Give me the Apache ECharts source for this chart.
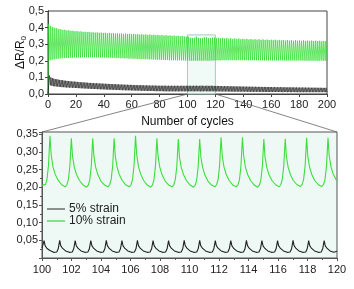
<!DOCTYPE html>
<html><head><meta charset="utf-8">
<script src="https://cdn.jsdelivr.net/npm/echarts@6/dist/echarts.min.js"></script>
<style>html,body{margin:0;padding:0;background:#fff}#c{width:354px;height:289px}</style>
</head><body><div id="c"></div>
<script>
// ---------- overview (0-200 cycles) ----------
const overviewXRange = [0, 200];
const overviewYRange = [0, 0.5];
const zoomWindow = [100, 120];
// 10% strain: first peak position and peak spacing (cycles), peak and trough values
const green10Start = 0.49, green10Period = 1.45, green10TroughOffset = 1.03;
const green10Peaks = [
0.424,0.409,0.403,0.397,0.396,0.391,0.390,0.386,0.387,0.383,
0.384,0.380,0.381,0.378,0.379,0.376,0.377,0.374,0.375,0.373,
0.374,0.371,0.372,0.370,0.371,0.369,0.370,0.368,0.369,0.366,
0.368,0.365,0.367,0.364,0.366,0.363,0.365,0.362,0.364,0.361,
0.363,0.360,0.362,0.359,0.361,0.358,0.360,0.357,0.359,0.356,
0.358,0.355,0.357,0.354,0.356,0.353,0.355,0.352,0.354,0.351,
0.353,0.350,0.352,0.349,0.351,0.348,0.350,0.347,0.346,0.345,
0.338,0.338,0.338,0.345,0.338,0.336,0.336,0.341,0.341,0.336,
0.337,0.340,0.340,0.336,0.339,0.335,0.338,0.334,0.337,0.333,
0.336,0.332,0.335,0.331,0.334,0.330,0.333,0.329,0.332,0.328,
0.331,0.328,0.330,0.327,0.330,0.326,0.329,0.325,0.328,0.325,
0.327,0.324,0.327,0.323,0.326,0.323,0.325,0.322,0.325,0.322,
0.324,0.321,0.324,0.321,0.323,0.320,0.323,0.320,0.322,0.320,
0.322,0.319,0.321,0.319,0.321,0.318,0.320,0.318];
const green10Troughs = [
0.203,0.206,0.209,0.211,0.213,0.214,0.216,0.216,0.218,0.217,
0.219,0.218,0.220,0.219,0.220,0.219,0.221,0.220,0.221,0.220,
0.221,0.220,0.221,0.220,0.220,0.219,0.220,0.219,0.220,0.218,
0.219,0.217,0.218,0.216,0.217,0.215,0.216,0.214,0.215,0.213,
0.214,0.212,0.213,0.211,0.212,0.210,0.211,0.209,0.210,0.208,
0.209,0.207,0.208,0.206,0.207,0.205,0.206,0.204,0.205,0.203,
0.204,0.203,0.204,0.202,0.203,0.202,0.203,0.201,0.202,0.201,
0.200,0.201,0.201,0.200,0.201,0.200,0.201,0.201,0.200,0.201,
0.201,0.202,0.203,0.203,0.202,0.204,0.203,0.204,0.203,0.204,
0.203,0.204,0.203,0.204,0.203,0.204,0.203,0.204,0.203,0.203,
0.204,0.203,0.203,0.204,0.203,0.203,0.202,0.203,0.202,0.203,
0.202,0.203,0.202,0.202,0.203,0.202,0.202,0.201,0.202,0.201,
0.202,0.201,0.201,0.202,0.201,0.201,0.200,0.201,0.200,0.201,
0.200,0.201,0.200,0.200,0.201,0.200,0.200,0.200];
// 5% strain
const black5Start = 0.97, black5Period = 1.055, black5TroughOffset = 0.755;
const black5Peaks = [
0.112,0.101,0.096,0.093,0.090,0.089,0.087,0.085,0.084,0.083,
0.081,0.080,0.079,0.078,0.077,0.076,0.075,0.075,0.074,0.073,
0.072,0.071,0.071,0.070,0.069,0.069,0.068,0.067,0.067,0.066,
0.066,0.065,0.065,0.064,0.064,0.063,0.063,0.062,0.062,0.061,
0.061,0.060,0.060,0.059,0.059,0.059,0.058,0.058,0.057,0.057,
0.057,0.056,0.056,0.056,0.055,0.055,0.055,0.054,0.054,0.054,
0.053,0.053,0.053,0.053,0.052,0.052,0.052,0.052,0.051,0.051,
0.051,0.051,0.051,0.050,0.050,0.050,0.050,0.050,0.050,0.050,
0.049,0.050,0.049,0.050,0.049,0.050,0.049,0.050,0.049,0.049,
0.050,0.049,0.049,0.050,
0.049,0.050,0.049,0.049,0.050,0.049,0.050,0.049,0.049,0.050,
0.050,0.049,0.049,0.050,0.049,0.049,0.050,0.049,0.049,
0.048,0.049,0.048,0.048,0.048,0.047,0.048,
0.047,0.047,0.047,0.046,0.047,0.046,0.046,0.046,0.045,0.046,
0.045,0.045,0.045,0.044,0.045,0.044,0.044,0.044,0.044,0.043,
0.044,0.043,0.043,0.043,0.043,0.042,0.043,0.042,0.042,0.042,
0.042,0.042,0.041,0.042,0.041,0.041,0.041,0.041,0.041,0.040,
0.041,0.040,0.040,0.040,0.040,0.040,0.040,0.039,0.040,0.039,
0.039,0.039,0.039,0.039,0.039,0.038,0.039,0.038,0.038,0.038,
0.038,0.038,0.038,0.037,0.038,0.037,0.037,0.037,0.037];
const black5Troughs = [
0.052,0.049,0.047,0.046,0.045,0.044,0.043,0.042,0.041,0.041,
0.040,0.039,0.039,0.038,0.038,0.037,0.037,0.036,0.036,0.035,
0.035,0.034,0.034,0.033,0.033,0.032,0.032,0.031,0.031,0.030,
0.030,0.030,0.029,0.029,0.028,0.028,0.028,0.027,0.027,0.026,
0.026,0.026,0.025,0.025,0.025,0.024,0.024,0.024,0.023,0.023,
0.023,0.022,0.022,0.022,0.022,0.021,0.021,0.021,0.020,0.020,
0.020,0.020,0.019,0.019,0.019,0.019,0.018,0.018,0.018,0.018,
0.018,0.017,0.017,0.017,0.017,0.017,0.017,0.016,0.016,0.016,
0.016,0.016,0.016,0.016,0.016,0.016,0.016,0.016,0.016,0.016,
0.016,0.016,0.016,0.016,
0.016,0.016,0.017,0.016,0.016,0.016,0.017,0.016,0.016,0.016,
0.016,0.017,0.016,0.016,0.016,0.016,0.017,0.016,0.016,
0.016,0.015,0.016,0.015,0.015,0.015,0.015,
0.015,0.015,0.014,0.015,0.014,0.014,0.014,0.014,0.014,0.014,
0.014,0.014,0.013,0.014,0.013,0.013,0.013,0.013,0.013,0.013,
0.013,0.013,0.013,0.012,0.013,0.012,0.012,0.012,0.012,0.012,
0.012,0.012,0.012,0.012,0.012,0.012,0.012,0.012,0.011,0.012,
0.012,0.011,0.012,0.011,0.011,0.012,0.011,0.011,0.011,0.011,
0.011,0.011,0.011,0.011,0.011,0.011,0.011,0.011,0.011,0.011,
0.011,0.011,0.011,0.011,0.011,0.011,0.011,0.011,0.011];

// ---------- detail (cycles 100-120) ----------
const detailXRange = [100, 120];
const detailYMax = 0.356;
const detailGreen10 = [
[100.00,.205],[100.12,.202],[100.24,.208],[100.34,.223],[100.44,.262],[100.54,.345],[100.62,.293],[100.74,.258],[100.89,.237],[101.09,.220],[101.34,.207],
[101.57,.201],[101.69,.207],[101.79,.222],[101.89,.260],[101.99,.338],[102.07,.287],[102.19,.256],[102.34,.236],[102.54,.219],[102.79,.206],
[103.02,.200],[103.14,.206],[103.24,.221],[103.34,.259],[103.44,.338],[103.52,.287],[103.64,.256],[103.79,.235],[103.99,.218],[104.24,.206],
[104.47,.201],[104.59,.207],[104.69,.222],[104.79,.260],[104.89,.338],[104.97,.287],[105.09,.257],[105.24,.236],[105.44,.219],[105.69,.206],
[105.92,.201],[106.04,.207],[106.14,.222],[106.24,.262],[106.34,.345],[106.42,.292],[106.54,.258],[106.69,.237],[106.89,.219],[107.14,.206],
[107.37,.200],[107.49,.206],[107.59,.221],[107.69,.259],[107.79,.338],[107.87,.287],[107.99,.256],[108.14,.235],[108.34,.218],[108.59,.206],
[108.82,.201],[108.94,.207],[109.04,.222],[109.14,.259],[109.24,.336],[109.32,.285],[109.44,.256],[109.59,.236],[109.79,.219],[110.04,.206],
[110.27,.200],[110.39,.206],[110.49,.221],[110.59,.259],[110.69,.336],[110.77,.285],[110.89,.256],[111.04,.235],[111.24,.218],[111.49,.206],
[111.72,.201],[111.84,.207],[111.94,.222],[112.04,.261],[112.14,.341],[112.22,.289],[112.34,.257],[112.49,.236],[112.69,.219],[112.94,.206],
[113.17,.201],[113.29,.207],[113.39,.222],[113.49,.261],[113.59,.341],[113.67,.289],[113.79,.257],[113.94,.236],[114.14,.219],[114.39,.206],
[114.62,.200],[114.74,.206],[114.84,.221],[114.94,.259],[115.04,.336],[115.12,.285],[115.24,.256],[115.39,.235],[115.59,.219],[115.84,.207],
[116.07,.201],[116.19,.207],[116.29,.222],[116.39,.260],[116.49,.337],[116.57,.286],[116.69,.256],[116.84,.236],[117.04,.219],[117.29,.207],
[117.52,.202],[117.64,.208],[117.74,.223],[117.84,.261],[117.94,.340],[118.02,.288],[118.14,.257],[118.29,.236],[118.49,.219],[118.74,.207],
[118.97,.202],[119.09,.208],[119.19,.223],[119.29,.261],[119.39,.340],[119.47,.289],[119.59,.258],[119.74,.237],[119.94,.221],[120.00,.218]];
const detailBlack5 = [
[100.00,.028],[100.04,.033],[100.14,.049],[100.21,.035],[100.34,.027],[100.54,.021],[100.79,.016],
[100.90,.015],[101.00,.017],[101.10,.026],[101.20,.050],[101.27,.035],[101.40,.027],[101.60,.020],[101.85,.016],
[101.95,.015],[102.05,.017],[102.15,.026],[102.25,.049],[102.32,.035],[102.45,.027],[102.65,.020],[102.90,.016],
[103.01,.015],[103.11,.017],[103.21,.026],[103.31,.049],[103.38,.035],[103.51,.027],[103.71,.020],[103.96,.016],
[104.06,.015],[104.16,.017],[104.26,.026],[104.36,.050],[104.43,.035],[104.56,.027],[104.76,.020],[105.01,.016],
[105.12,.015],[105.22,.017],[105.32,.026],[105.42,.049],[105.49,.035],[105.62,.027],[105.82,.020],[106.07,.016],
[106.17,.015],[106.27,.017],[106.37,.026],[106.47,.050],[106.54,.035],[106.67,.027],[106.87,.020],[107.12,.016],
[107.23,.015],[107.33,.017],[107.43,.026],[107.53,.049],[107.60,.035],[107.73,.027],[107.93,.020],[108.18,.016],
[108.28,.015],[108.38,.017],[108.48,.026],[108.58,.049],[108.65,.035],[108.78,.027],[108.98,.020],[109.23,.016],
[109.34,.015],[109.44,.017],[109.54,.026],[109.64,.050],[109.71,.035],[109.84,.027],[110.04,.020],[110.29,.016],
[110.39,.015],[110.49,.017],[110.59,.026],[110.69,.050],[110.76,.035],[110.89,.027],[111.09,.020],[111.34,.016],
[111.45,.015],[111.55,.017],[111.65,.026],[111.75,.049],[111.82,.035],[111.95,.027],[112.15,.020],[112.40,.016],
[112.50,.015],[112.60,.017],[112.70,.026],[112.80,.049],[112.87,.035],[113.00,.027],[113.20,.020],[113.45,.016],
[113.56,.015],[113.66,.017],[113.76,.026],[113.86,.050],[113.93,.035],[114.06,.027],[114.26,.020],[114.51,.016],
[114.61,.015],[114.71,.017],[114.81,.026],[114.91,.049],[114.98,.035],[115.11,.027],[115.31,.020],[115.56,.016],
[115.67,.015],[115.77,.017],[115.87,.026],[115.97,.049],[116.04,.035],[116.17,.027],[116.37,.020],[116.62,.016],
[116.72,.015],[116.82,.017],[116.92,.026],[117.02,.050],[117.09,.035],[117.22,.027],[117.42,.020],[117.67,.016],
[117.78,.015],[117.88,.017],[117.98,.026],[118.08,.049],[118.15,.035],[118.28,.027],[118.48,.020],[118.73,.016],
[118.83,.015],[118.93,.017],[119.03,.026],[119.13,.049],[119.20,.035],[119.33,.027],[119.53,.020],[119.78,.016],
[119.88,.015],[120.00,.019]];
const seriesNames = ['5% strain', '10% strain'];

function zigzag(start, period, off, peaks, troughs) {
  const out = [[0, 0]];
  peaks.forEach((p, k) => {
    const x = start + k * period;
    out.push([x, p]);
    out.push([x + off, troughs[k]]);
  });
  return out;
}
const comma = (v, d) => v.toFixed(d).replace('.', ',');
const FONT = 'Liberation Sans';
const AX = '#444';
const lbl = {fontFamily: FONT, fontSize: 11, color: '#222'};

const chart = echarts.init(document.getElementById('c'), null, {renderer: 'canvas'});
const option = {
  animation: false,
  backgroundColor: '#fff',
  textStyle: {fontFamily: FONT},
  grid: [
    {left: 48, right: 27, top: 11, height: 83, show: true, borderColor: AX, borderWidth: 1, backgroundColor: 'transparent'},
    {left: 42, right: 17, top: 132, height: 126, show: true, borderColor: '#555', borderWidth: 1, backgroundColor: '#eef9f5'}
  ],
  legend: {
    data: seriesNames, orient: 'vertical', left: 47, top: 203, itemGap: 0, padding: 0,
    icon: 'rect', itemWidth: 18, itemHeight: 1.3,
    textStyle: {fontFamily: FONT, fontSize: 12, color: '#222', lineHeight: 12, padding: [0, 0, 0, -1]}
  },
  xAxis: [
    {type: 'value', gridIndex: 0, min: overviewXRange[0], max: overviewXRange[1], interval: 20,
     name: 'Number of cycles', nameLocation: 'middle', nameGap: 22,
     nameTextStyle: {fontFamily: FONT, fontSize: 12, color: '#111'},
     axisLine: {lineStyle: {color: AX}}, axisTick: {length: 3, lineStyle: {color: AX}},
     axisLabel: Object.assign({margin: 5}, lbl), splitLine: {show: false}},
    {type: 'value', gridIndex: 0, position: 'top', min: overviewXRange[0], max: overviewXRange[1], interval: 20,
     axisLine: {lineStyle: {color: AX}}, axisTick: {inside: true, length: 3, lineStyle: {color: AX}},
     axisLabel: {show: false}, splitLine: {show: false}},
    {type: 'value', gridIndex: 1, min: detailXRange[0], max: detailXRange[1], interval: 2,
     axisLine: {lineStyle: {color: '#555'}}, axisTick: {length: 3, lineStyle: {color: '#555'}},
     minorTick: {show: true, splitNumber: 2, length: 2, lineStyle: {color: '#555'}},
     axisLabel: Object.assign({margin: 6}, lbl), splitLine: {show: false}}
  ],
  yAxis: [
    {type: 'value', gridIndex: 0, min: overviewYRange[0], max: overviewYRange[1], interval: 0.1,
     name: '{a|ΔR/R}{b|0}', nameLocation: 'middle', nameGap: 20, nameRotate: 90, nameMoveOverlap: false,
     nameTextStyle: {rich: {a: {fontFamily: FONT, fontSize: 12, color: '#111'},
                            b: {fontFamily: FONT, fontSize: 8, color: '#111', padding: [7, 0, 0, 0]}}},
     axisLine: {lineStyle: {color: AX}}, axisTick: {length: 3, lineStyle: {color: AX}},
     axisLabel: Object.assign({margin: 4, formatter: v => comma(v, 1)}, lbl), splitLine: {show: false}},
    {type: 'value', gridIndex: 0, position: 'right', min: overviewYRange[0], max: overviewYRange[1], interval: 0.1,
     axisLine: {lineStyle: {color: AX}}, axisTick: {inside: true, length: 3, lineStyle: {color: AX}},
     axisLabel: {show: false}, splitLine: {show: false}},
    {type: 'value', gridIndex: 1, min: 0, max: detailYMax, interval: 0.05,
     axisLine: {lineStyle: {color: '#555'}}, axisTick: {length: 3, lineStyle: {color: '#555'}},
     minorTick: {show: true, splitNumber: 2, length: 2, lineStyle: {color: '#555'}},
     axisLabel: Object.assign({margin: 4, formatter: v => (v < 0.01 || Math.abs(v / 0.05 - Math.round(v / 0.05)) > 1e-6) ? '' : comma(v, 2)}, lbl),
     splitLine: {show: false}}
  ],
  series: [
    {name: 'ov10', type: 'line', xAxisIndex: 0, yAxisIndex: 0, symbol: 'none',
     lineStyle: {color: '#22dd22', width: 0.7},
     data: zigzag(green10Start, green10Period, green10TroughOffset, green10Peaks, green10Troughs)},
    {name: 'ov5', type: 'line', xAxisIndex: 0, yAxisIndex: 0, symbol: 'none',
     lineStyle: {color: '#111', width: 0.6},
     data: zigzag(black5Start, black5Period, black5TroughOffset, black5Peaks, black5Troughs)},
    {name: 'zoomRect', type: 'line', xAxisIndex: 0, yAxisIndex: 0, data: [], z: 5,
     markArea: {silent: true, itemStyle: {color: 'rgba(232,248,242,0.65)', borderColor: '#a9c9bf', borderWidth: 1},
       data: [[{xAxis: zoomWindow[0], yAxis: 0}, {xAxis: zoomWindow[1], yAxis: detailYMax}]]}},
    {name: seriesNames[0], type: 'line', xAxisIndex: 2, yAxisIndex: 2, symbol: 'none',
     lineStyle: {color: '#222', width: 1.1}, itemStyle: {color: '#555'}, data: detailBlack5},
    {name: seriesNames[1], type: 'line', xAxisIndex: 2, yAxisIndex: 2, symbol: 'none',
     lineStyle: {color: '#3ddd3d', width: 1.1}, itemStyle: {color: '#3ddd3d'}, data: detailGreen10}
  ]
};
chart.setOption(option);
// zoom connector lines
const a = chart.convertToPixel({xAxisIndex: 0, yAxisIndex: 0}, [zoomWindow[0], 0]);
const b = chart.convertToPixel({xAxisIndex: 0, yAxisIndex: 0}, [zoomWindow[1], 0]);
const c = chart.convertToPixel({xAxisIndex: 2, yAxisIndex: 2}, [detailXRange[0], detailYMax]);
const d = chart.convertToPixel({xAxisIndex: 2, yAxisIndex: 2}, [detailXRange[1], detailYMax]);
chart.setOption({graphic: [
  {type: 'line', z: 10, shape: {x1: a[0], y1: a[1], x2: c[0], y2: c[1]}, style: {stroke: '#666', lineWidth: 0.8}},
  {type: 'line', z: 10, shape: {x1: b[0], y1: b[1], x2: d[0], y2: d[1]}, style: {stroke: '#666', lineWidth: 0.8}}
]});
</script></body></html>
